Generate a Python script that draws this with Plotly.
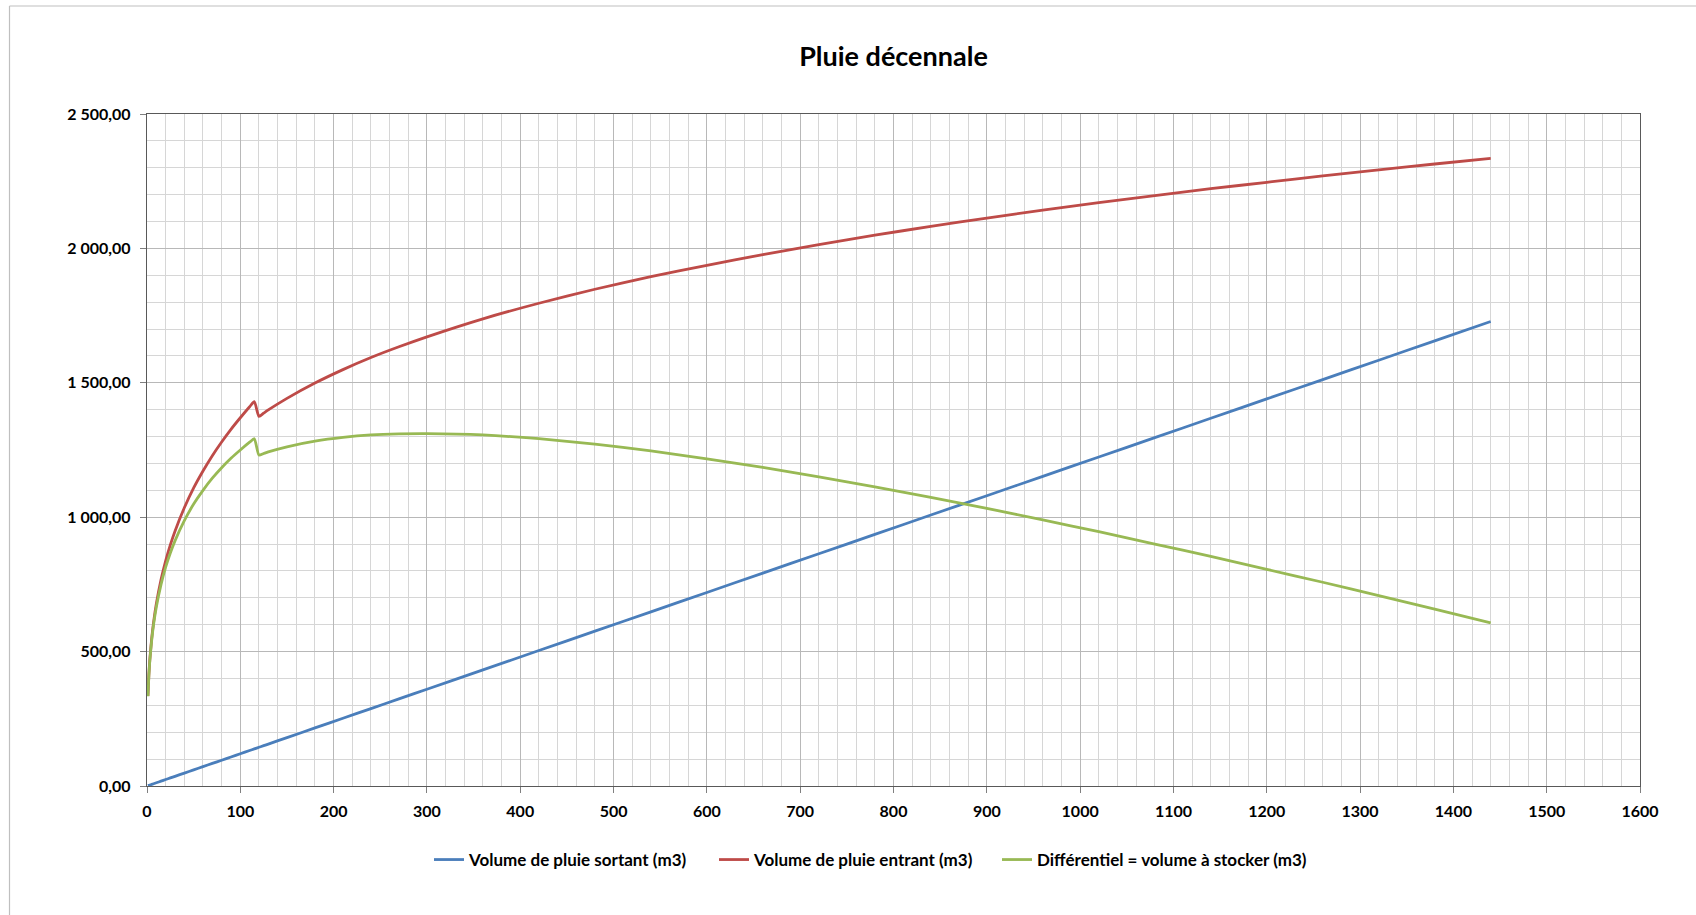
import plotly.graph_objects as go

# Durée (min)
t_min = [1, 2, 3, 5, 7, 10, 15, 20, 25, 30, 40, 50, 60, 70, 80, 90, 100, 110, 115,
         120, 125, 130, 150, 180, 210, 240, 270, 300, 360, 420, 480, 540, 600, 660,
         720, 780, 840, 900, 960, 1020, 1080, 1140, 1200, 1260, 1320, 1380, 1440]

vol_sortant = [1.2, 2.4, 3.6, 6, 8.4, 12, 18, 24, 30, 36, 48, 60, 72, 84, 96, 108, 120, 132, 138,
               144, 150, 156, 180, 216, 252, 288, 324, 360, 432, 504, 576, 648, 720, 792,
               864, 936, 1008, 1080, 1152, 1224, 1296, 1368, 1440, 1512, 1584, 1656, 1728]

vol_entrant = [335, 414, 469, 548, 608, 678, 767, 838, 897, 948, 1035, 1109, 1172, 1229, 1280, 1327, 1370, 1411, 1430,
               1375, 1387, 1399, 1442, 1499, 1549, 1594, 1634, 1671, 1738, 1796, 1848, 1895, 1937, 1977,
               2014, 2049, 2082, 2113, 2142, 2170, 2196, 2222, 2246, 2270, 2292, 2314, 2335]

vol_stocker = [333.8, 411.6, 465.4, 542, 599.6, 666, 749, 814, 867, 912, 987, 1049, 1100, 1145, 1184, 1219, 1250, 1279, 1292,
               1231, 1237, 1243, 1262, 1283, 1297, 1306, 1310, 1311, 1306, 1292, 1272, 1247, 1217, 1185,
               1150, 1113, 1074, 1033, 990, 946, 900, 854, 806, 758, 708, 658, 607]

y_tickvals = [0, 500, 1000, 1500, 2000, 2500]
y_ticktext = ["0,00", "500,00", "1 000,00", "1 500,00", "2 000,00", "2 500,00"]
x_tickvals = [0, 100, 200, 300, 400, 500, 600, 700, 800, 900, 1000, 1100, 1200, 1300, 1400, 1500, 1600]

names = ["Volume de pluie sortant (m3)", "Volume de pluie entrant (m3)", "Différentiel = volume à stocker (m3)"]
colors = ["#4A7EBB", "#BE4B48", "#98B954"]
legend_ids = ["legend", "legend2", "legend3"]

FONT = "Lato"
W, H = 1696, 915
ML, MR, MT, MB = 147, 56, 114, 129

fig = go.Figure()
for vals, name, col, lg in zip([vol_sortant, vol_entrant, vol_stocker], names, colors, legend_ids):
    fig.add_trace(go.Scatter(x=t_min, y=vals, mode="lines", name=name, legend=lg,
                             line=dict(color=col, width=2.8, shape="spline", smoothing=0.6)))

pw = W - ML - MR
ph = H - MT - MB
# outer chart-area frame (left and top edges visible)
fx = (9.5 - ML) / pw
fy = 1 + (MT - 6) / ph
fig.add_shape(type="line", xref="paper", yref="paper", x0=fx, x1=fx, y0=fy, y1=-2,
              line=dict(color="#BFBFBF", width=1.2))
fig.add_shape(type="line", xref="paper", yref="paper", x0=fx, x1=2, y0=fy, y1=fy,
              line=dict(color="#BFBFBF", width=1.2))

leg_y = -(860 - (MT + ph)) / ph
text_starts = [468, 753, 1036]


def legend_cfg(px):
    return dict(orientation="h", x=(px - 39 - ML) / pw, xanchor="left", y=leg_y, yanchor="middle",
                font=dict(size=17, family=FONT, color="black", weight="bold"),
                itemwidth=30, bgcolor="rgba(0,0,0,0)")


fig.update_layout(
    width=W, height=H,
    margin=dict(l=ML, r=MR, t=MT, b=MB),
    paper_bgcolor="white", plot_bgcolor="white",
    font=dict(family=FONT, color="black"),
    title=dict(text="<b>Pluie décennale</b>", x=(ML + pw / 2) / W, xanchor="center",
               y=1 - 57 / H, yanchor="middle", font=dict(size=27, family=FONT, color="black")),
    showlegend=True,
    legend=legend_cfg(text_starts[0]),
    legend2=legend_cfg(text_starts[1]),
    legend3=legend_cfg(text_starts[2]),
    xaxis=dict(range=[0, 1600], tickvals=x_tickvals, showgrid=True, gridcolor="#B8B8B8", gridwidth=1,
               minor=dict(dtick=20, showgrid=True, gridcolor="#D6D6D6", gridwidth=1),
               showline=True, mirror=True, linecolor="#595959", linewidth=1.3,
               ticks="outside", ticklen=6, tickcolor="#808080", zeroline=False,
               tickfont=dict(size=16, family=FONT, color="black", weight="bold"),
               ticklabelstandoff=5),
    yaxis=dict(range=[0, 2500], tickvals=y_tickvals, ticktext=y_ticktext, showgrid=True,
               gridcolor="#B8B8B8", gridwidth=1,
               minor=dict(dtick=100, showgrid=True, gridcolor="#D6D6D6", gridwidth=1),
               showline=True, mirror=True, linecolor="#595959", linewidth=1.3,
               ticks="outside", ticklen=6, tickcolor="#808080", zeroline=False,
               tickfont=dict(size=16, family=FONT, color="black", weight="bold"),
               ticklabelstandoff=6),
)

fig.write_html("out.html", config={"displayModeBar": False},
               post_script="document.body.style.margin='0';document.body.style.overflow='hidden';")
